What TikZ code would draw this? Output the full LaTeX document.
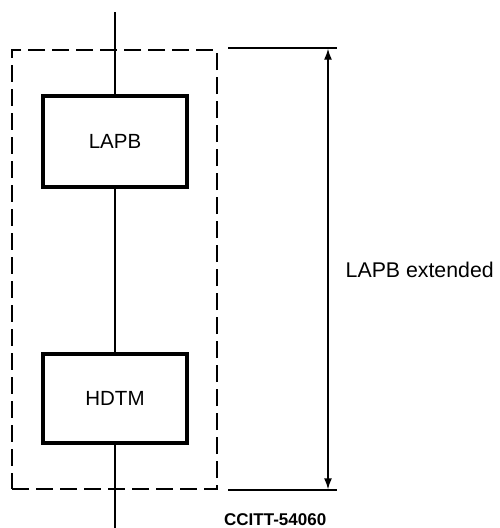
\documentclass[tikz,border=0pt]{standalone}
\usepackage{fontspec}
\setmainfont{Liberation Sans}
\usetikzlibrary{arrows.meta}
\tikzset{
  thinline/.style={line width=1.4pt, draw=black},
  blockbox/.style={draw=black, line width=3.6pt, minimum width=144pt, inner sep=0pt, font=\fontsize{20.5}{24}\selectfont},
  dashbox/.style={draw=black, line width=1.4pt, dash pattern=on 17pt off 7pt, inner sep=0pt, minimum width=205pt, minimum height=439pt},
  dimarrow/.style={line width=1.4pt, {Latex[length=11pt,width=8pt]}-{Latex[length=11pt,width=8pt]}},
  lbl/.style={inner sep=0pt, font=\fontsize{21.3}{25}\selectfont},
  ref/.style={inner sep=0pt, font=\fontsize{17}{20}\selectfont\bfseries}
}
\begin{document}
\begin{tikzpicture}[x=1pt,y=-1pt]
\useasboundingbox (0,0) rectangle (500,528);
\node[dashbox] (ext) at (114.5,269.5) {};
\node[blockbox, minimum height=91pt] (lapb) at (115,141.5) {LAPB};
\node[blockbox, minimum height=89pt] (hdtm) at (115,398.5) {HDTM};
\coordinate (top) at (115,12);
\coordinate (bot) at (115,530);
\draw[thinline] (top) -- (lapb.north);
\draw[thinline] (lapb.south) -- (hdtm.north);
\draw[thinline] (hdtm.south) -- (bot);
% extension lines
\coordinate (e1a) at (228,48);
\coordinate (e1b) at (337,48);
\coordinate (e2a) at (228,490);
\coordinate (e2b) at (337,490);
\draw[thinline] (e1a) -- (e1b);
\draw[thinline] (e2a) -- (e2b);
\coordinate (d1) at (328,48.7);
\coordinate (d2) at (328,489.3);
\draw[dimarrow] (d1) -- (d2);
\node[lbl, anchor=west] (lbl) at (345.5,270) {LAPB extended};
\node[ref, anchor=base west] (cc) at (224,525.5) {CCITT-54060};
\end{tikzpicture}
\end{document}
